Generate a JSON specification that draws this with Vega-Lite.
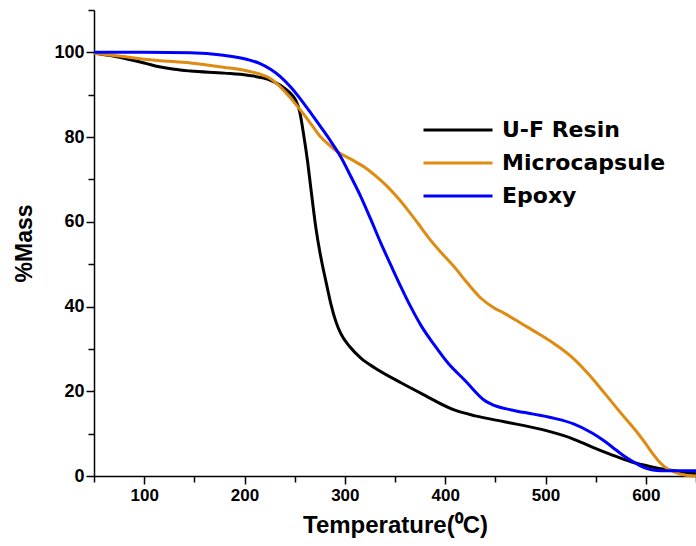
{
  "$schema": "https://vega.github.io/schema/vega-lite/v6.json",
  "width": 602,
  "height": 466,
  "autosize": {"type": "none"},
  "padding": {"left": 94, "top": 10, "right": 0, "bottom": 70},
  "background": "white",
  "config": {
    "view": {"stroke": null},
    "font": "Liberation Sans"
  },
  "data": {
    "values": [
      {"series": "U-F Resin", "t": 50, "m": 99.8},
      {"series": "U-F Resin", "t": 65, "m": 99.3},
      {"series": "U-F Resin", "t": 80, "m": 98.6},
      {"series": "U-F Resin", "t": 100, "m": 97.5},
      {"series": "U-F Resin", "t": 115, "m": 96.6},
      {"series": "U-F Resin", "t": 130, "m": 96.0},
      {"series": "U-F Resin", "t": 146, "m": 95.6},
      {"series": "U-F Resin", "t": 180, "m": 95.1},
      {"series": "U-F Resin", "t": 203, "m": 94.6},
      {"series": "U-F Resin", "t": 226, "m": 93.4},
      {"series": "U-F Resin", "t": 236, "m": 92.2},
      {"series": "U-F Resin", "t": 245, "m": 90.5},
      {"series": "U-F Resin", "t": 251, "m": 88.7},
      {"series": "U-F Resin", "t": 255, "m": 86.0},
      {"series": "U-F Resin", "t": 259, "m": 80.5},
      {"series": "U-F Resin", "t": 263, "m": 74.0},
      {"series": "U-F Resin", "t": 266, "m": 68.2},
      {"series": "U-F Resin", "t": 271, "m": 58.8},
      {"series": "U-F Resin", "t": 275, "m": 53.0},
      {"series": "U-F Resin", "t": 278, "m": 49.4},
      {"series": "U-F Resin", "t": 282, "m": 45.0},
      {"series": "U-F Resin", "t": 286, "m": 40.7},
      {"series": "U-F Resin", "t": 291, "m": 36.5},
      {"series": "U-F Resin", "t": 296, "m": 33.6},
      {"series": "U-F Resin", "t": 305, "m": 30.5},
      {"series": "U-F Resin", "t": 316, "m": 27.8},
      {"series": "U-F Resin", "t": 330, "m": 25.5},
      {"series": "U-F Resin", "t": 356, "m": 22.0},
      {"series": "U-F Resin", "t": 376, "m": 19.5},
      {"series": "U-F Resin", "t": 409, "m": 15.6},
      {"series": "U-F Resin", "t": 430, "m": 14.2},
      {"series": "U-F Resin", "t": 459, "m": 12.8},
      {"series": "U-F Resin", "t": 496, "m": 11.0},
      {"series": "U-F Resin", "t": 526, "m": 8.9},
      {"series": "U-F Resin", "t": 546, "m": 6.9},
      {"series": "U-F Resin", "t": 566, "m": 5.0},
      {"series": "U-F Resin", "t": 586, "m": 3.3},
      {"series": "U-F Resin", "t": 605, "m": 2.2},
      {"series": "U-F Resin", "t": 623, "m": 1.4},
      {"series": "U-F Resin", "t": 650, "m": 0.5},

      {"series": "Microcapsule", "t": 50, "m": 99.8},
      {"series": "Microcapsule", "t": 79, "m": 99.0},
      {"series": "Microcapsule", "t": 113, "m": 98.1},
      {"series": "Microcapsule", "t": 146, "m": 97.5},
      {"series": "Microcapsule", "t": 179, "m": 96.5},
      {"series": "Microcapsule", "t": 203, "m": 95.6},
      {"series": "Microcapsule", "t": 226, "m": 93.8},
      {"series": "Microcapsule", "t": 236, "m": 91.8},
      {"series": "Microcapsule", "t": 246, "m": 89.2},
      {"series": "Microcapsule", "t": 256, "m": 86.3},
      {"series": "Microcapsule", "t": 266, "m": 83.2},
      {"series": "Microcapsule", "t": 276, "m": 80.0},
      {"series": "Microcapsule", "t": 285, "m": 78.0},
      {"series": "Microcapsule", "t": 293, "m": 76.5},
      {"series": "Microcapsule", "t": 306, "m": 74.8},
      {"series": "Microcapsule", "t": 319, "m": 73.0},
      {"series": "Microcapsule", "t": 331, "m": 70.8},
      {"series": "Microcapsule", "t": 343, "m": 68.2},
      {"series": "Microcapsule", "t": 353, "m": 65.6},
      {"series": "Microcapsule", "t": 363, "m": 62.7},
      {"series": "Microcapsule", "t": 373, "m": 59.6},
      {"series": "Microcapsule", "t": 383, "m": 56.4},
      {"series": "Microcapsule", "t": 395, "m": 53.0},
      {"series": "Microcapsule", "t": 409, "m": 49.4},
      {"series": "Microcapsule", "t": 422, "m": 45.6},
      {"series": "Microcapsule", "t": 436, "m": 41.9},
      {"series": "Microcapsule", "t": 448, "m": 39.8},
      {"series": "Microcapsule", "t": 459, "m": 38.4},
      {"series": "Microcapsule", "t": 476, "m": 36.0},
      {"series": "Microcapsule", "t": 493, "m": 33.6},
      {"series": "Microcapsule", "t": 510, "m": 31.0},
      {"series": "Microcapsule", "t": 526, "m": 28.1},
      {"series": "Microcapsule", "t": 543, "m": 24.0},
      {"series": "Microcapsule", "t": 559, "m": 19.5},
      {"series": "Microcapsule", "t": 576, "m": 14.6},
      {"series": "Microcapsule", "t": 593, "m": 9.8},
      {"series": "Microcapsule", "t": 600, "m": 7.6},
      {"series": "Microcapsule", "t": 607, "m": 5.2},
      {"series": "Microcapsule", "t": 614, "m": 3.2},
      {"series": "Microcapsule", "t": 621, "m": 1.8},
      {"series": "Microcapsule", "t": 630, "m": 0.8},
      {"series": "Microcapsule", "t": 640, "m": 0.2},
      {"series": "Microcapsule", "t": 650, "m": 0.0},

      {"series": "Epoxy", "t": 50, "m": 100.0},
      {"series": "Epoxy", "t": 100, "m": 100.0},
      {"series": "Epoxy", "t": 146, "m": 99.9},
      {"series": "Epoxy", "t": 179, "m": 99.3},
      {"series": "Epoxy", "t": 203, "m": 98.3},
      {"series": "Epoxy", "t": 215, "m": 97.4},
      {"series": "Epoxy", "t": 226, "m": 96.0},
      {"series": "Epoxy", "t": 236, "m": 94.2},
      {"series": "Epoxy", "t": 246, "m": 91.8},
      {"series": "Epoxy", "t": 256, "m": 88.9},
      {"series": "Epoxy", "t": 266, "m": 85.7},
      {"series": "Epoxy", "t": 276, "m": 82.4},
      {"series": "Epoxy", "t": 286, "m": 79.0},
      {"series": "Epoxy", "t": 296, "m": 75.3},
      {"series": "Epoxy", "t": 306, "m": 70.7},
      {"series": "Epoxy", "t": 316, "m": 65.9},
      {"series": "Epoxy", "t": 326, "m": 60.5},
      {"series": "Epoxy", "t": 336, "m": 54.9},
      {"series": "Epoxy", "t": 346, "m": 49.7},
      {"series": "Epoxy", "t": 356, "m": 44.6},
      {"series": "Epoxy", "t": 366, "m": 39.8},
      {"series": "Epoxy", "t": 376, "m": 35.5},
      {"series": "Epoxy", "t": 389, "m": 31.0},
      {"series": "Epoxy", "t": 403, "m": 26.6},
      {"series": "Epoxy", "t": 420, "m": 22.5},
      {"series": "Epoxy", "t": 439, "m": 17.9},
      {"series": "Epoxy", "t": 452, "m": 16.4},
      {"series": "Epoxy", "t": 466, "m": 15.6},
      {"series": "Epoxy", "t": 488, "m": 14.6},
      {"series": "Epoxy", "t": 509, "m": 13.6},
      {"series": "Epoxy", "t": 528, "m": 12.3},
      {"series": "Epoxy", "t": 546, "m": 10.2},
      {"series": "Epoxy", "t": 559, "m": 8.2},
      {"series": "Epoxy", "t": 570, "m": 6.2},
      {"series": "Epoxy", "t": 579, "m": 4.6},
      {"series": "Epoxy", "t": 590, "m": 3.0},
      {"series": "Epoxy", "t": 599, "m": 1.9},
      {"series": "Epoxy", "t": 607, "m": 1.4},
      {"series": "Epoxy", "t": 615, "m": 1.25},
      {"series": "Epoxy", "t": 650, "m": 1.25}
    ]
  },
  "mark": {"type": "line", "strokeWidth": 3, "interpolate": "monotone"},
  "encoding": {
    "x": {
      "field": "t",
      "type": "quantitative",
      "scale": {"domain": [50, 650], "nice": false, "zero": false},
      "axis": {
        "title": "Temperature(⁰C)",
        "values": [50, 100, 150, 200, 250, 300, 350, 400, 450, 500, 550, 600, 650],
        "labelExpr": "datum.value % 100 == 0 ? datum.label : ''",
        "grid": false,
        "domainColor": "black",
        "domainWidth": 1.5,
        "tickColor": "black",
        "tickWidth": 1.5,
        "tickSize": {"condition": {"test": "datum.value % 100 == 0", "value": 8}, "value": 6},
        "labelFont": "Liberation Sans",
        "labelFontSize": 17,
        "labelFontWeight": "bold",
        "labelColor": "black",
        "labelPadding": 3,
        "titleFont": "Liberation Sans",
        "titleFontSize": 24,
        "titleFontWeight": "bold",
        "titleColor": "black",
        "titlePadding": 10
      }
    },
    "y": {
      "field": "m",
      "type": "quantitative",
      "scale": {"domain": [0, 110], "nice": false},
      "axis": {
        "title": "%Mass",
        "values": [0, 10, 20, 30, 40, 50, 60, 70, 80, 90, 100, 110],
        "labelExpr": "datum.value % 20 == 0 && datum.value <= 100 ? datum.label : ''",
        "grid": false,
        "domainColor": "black",
        "domainWidth": 1.5,
        "tickColor": "black",
        "tickWidth": 1.5,
        "tickSize": {"condition": {"test": "datum.value % 20 == 0 && datum.value <= 100", "value": 8}, "value": 6},
        "labelFont": "Liberation Sans",
        "labelFontSize": 18,
        "labelFontWeight": "bold",
        "labelColor": "black",
        "labelPadding": 2,
        "titleFont": "Liberation Sans",
        "titleFontSize": 23,
        "titleFontWeight": "bold",
        "titleColor": "black",
        "titlePadding": 17
      }
    },
    "color": {
      "field": "series",
      "type": "nominal",
      "sort": ["U-F Resin", "Microcapsule", "Epoxy"],
      "scale": {"domain": ["U-F Resin", "Microcapsule", "Epoxy"], "range": ["#000000", "#DF8A10", "#0000FF"]},
      "legend": {
        "title": null,
        "orient": "none",
        "legendX": 351,
        "legendY": 107,
        "symbolType": "M-3,0H3",
        "symbolSize": 529,
        "symbolStrokeWidth": 3,
        "labelFont": "DejaVu Sans",
        "labelFontSize": 22,
        "labelFontWeight": "bold",
        "labelColor": "black",
        "labelOffset": 31,
        "labelLimit": 400,
        "rowPadding": 9
      }
    }
  }
}
